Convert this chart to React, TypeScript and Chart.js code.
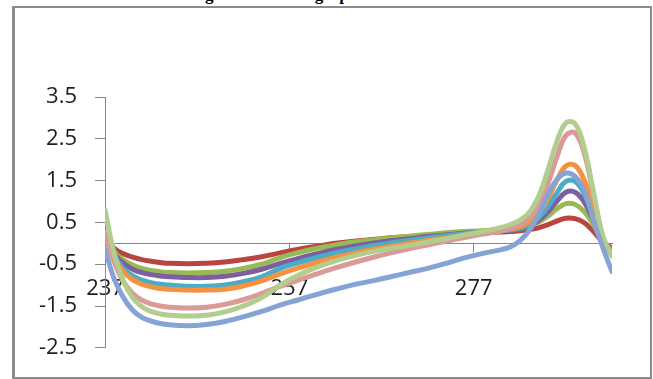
import React, { useEffect, useRef } from 'react';
import { Chart, registerables } from 'chart.js';

Chart.register(...registerables);

const wavelengths = [237, 238, 239, 240, 241, 242, 243, 244, 246, 248, 250, 252, 254, 256, 258, 260, 262, 264, 266, 268, 270, 272, 274, 276, 278, 280, 281, 282, 283, 284, 285, 286, 287, 288, 289, 290, 291, 292];
const xTickValues = [237, 257, 277];
const yTickValues = [-2.5, -1.5, -0.5, 0.5, 1.5, 2.5, 3.5];

const seriesRed = [0.15, -0.12, -0.25, -0.33, -0.39, -0.43, -0.46, -0.48, -0.49, -0.48, -0.45, -0.39, -0.32, -0.23, -0.14, -0.07, 0.0, 0.05, 0.09, 0.13, 0.16, 0.19, 0.22, 0.24, 0.26, 0.27, 0.28, 0.3, 0.33, 0.37, 0.44, 0.53, 0.6, 0.59, 0.49, 0.28, 0.04, -0.12];
const seriesGreen = [0.2, -0.2, -0.4, -0.52, -0.6, -0.65, -0.68, -0.7, -0.71, -0.7, -0.67, -0.6, -0.5, -0.34, -0.22, -0.12, -0.04, 0.03, 0.08, 0.13, 0.17, 0.21, 0.25, 0.28, 0.3, 0.32, 0.33, 0.36, 0.41, 0.5, 0.64, 0.82, 0.95, 0.93, 0.76, 0.44, 0.06, -0.18];
const seriesPurple = [0.2, -0.25, -0.48, -0.62, -0.7, -0.75, -0.78, -0.8, -0.82, -0.82, -0.79, -0.72, -0.62, -0.48, -0.36, -0.25, -0.15, -0.07, 0.0, 0.06, 0.11, 0.16, 0.2, 0.24, 0.27, 0.3, 0.32, 0.35, 0.42, 0.54, 0.74, 1.0, 1.22, 1.22, 0.98, 0.55, 0.07, -0.22];
const seriesTeal = [0.15, -0.3, -0.6, -0.78, -0.88, -0.94, -0.98, -1.0, -1.03, -1.03, -1.0, -0.92, -0.8, -0.6, -0.46, -0.34, -0.23, -0.14, -0.06, 0.01, 0.07, 0.13, 0.18, 0.23, 0.27, 0.3, 0.32, 0.36, 0.44, 0.6, 0.86, 1.2, 1.48, 1.48, 1.18, 0.64, 0.06, -0.3];
const seriesOrange = [0.15, -0.35, -0.68, -0.87, -0.98, -1.04, -1.08, -1.1, -1.12, -1.12, -1.1, -1.02, -0.9, -0.73, -0.59, -0.46, -0.34, -0.24, -0.15, -0.07, 0.0, 0.07, 0.13, 0.19, 0.24, 0.3, 0.34, 0.4, 0.51, 0.72, 1.05, 1.5, 1.85, 1.86, 1.5, 0.82, 0.1, -0.25];
const seriesPink = [0.25, -0.45, -0.92, -1.2, -1.36, -1.45, -1.5, -1.53, -1.55, -1.53, -1.46, -1.35, -1.2, -1.03, -0.88, -0.73, -0.59, -0.46, -0.34, -0.23, -0.13, -0.04, 0.05, 0.14, 0.22, 0.3, 0.36, 0.45, 0.6, 0.9, 1.4, 2.05, 2.58, 2.64, 2.15, 1.15, 0.15, -0.3];
const seriesLightGreen = [0.8, -0.25, -0.9, -1.3, -1.52, -1.63, -1.69, -1.72, -1.74, -1.72, -1.64, -1.5, -1.3, -1.0, -0.76, -0.57, -0.42, -0.3, -0.2, -0.12, -0.05, 0.03, 0.11, 0.2, 0.28, 0.38, 0.45, 0.55, 0.73, 1.1, 1.72, 2.42, 2.88, 2.86, 2.28, 1.22, 0.18, -0.3];
const seriesBlue = [-0.15, -0.85, -1.3, -1.6, -1.77, -1.86, -1.92, -1.95, -1.97, -1.94, -1.87, -1.76, -1.63, -1.48, -1.35, -1.22, -1.1, -0.99, -0.9, -0.8, -0.7, -0.6, -0.48, -0.35, -0.24, -0.15, -0.08, 0.06, 0.3, 0.66, 1.15, 1.52, 1.68, 1.6, 1.25, 0.55, -0.1, -0.68];

const seriesList = [
  { values: seriesRed, color: '#B8453F' },
  { values: seriesGreen, color: '#98B954' },
  { values: seriesPurple, color: '#7D5FA0' },
  { values: seriesTeal, color: '#4AACC5' },
  { values: seriesOrange, color: '#F59240' },
  { values: seriesPink, color: '#DA9A98' },
  { values: seriesLightGreen, color: '#B2CD8E' },
  { values: seriesBlue, color: '#86A3D6' },
];

const axisGray = '#868686';
const tickFont = { family: '"Open Sans", "Noto Sans", sans-serif', size: 22 };

export default function App() {
  const ref = useRef<HTMLCanvasElement>(null);

  useEffect(() => {
    if (!ref.current) return;
    const chart = new Chart(ref.current, {
      type: 'line',
      data: {
        datasets: seriesList.map((s, i) => ({
          data: wavelengths.map((x, j) => ({ x, y: s.values[j] })),
          borderColor: s.color,
          backgroundColor: s.color,
          borderWidth: 5,
          pointRadius: 0,
          tension: 0.4,
          fill: false,
          order: seriesList.length - i,
          borderCapStyle: 'round',
          borderJoinStyle: 'round',
        })),
      },
      options: {
        animation: false,
        responsive: false,
        maintainAspectRatio: false,
        layout: { padding: { left: 0, top: 97, right: 41, bottom: 15 } },
        plugins: {
          legend: { display: false },
          tooltip: { enabled: false },
          title: { display: false },
        },
        scales: {
          x: {
            type: 'linear',
            min: 237,
            max: 292,
            position: { y: 0 },
            grid: { drawOnChartArea: false, drawTicks: true, tickLength: 8, color: axisGray },
            border: { color: axisGray, width: 1 },
            ticks: {
              font: tickFont,
              color: '#1e1e1e',
              padding: 24,
              maxRotation: 0,
              autoSkip: false,
              callback: (v: any) => String(v),
            },
            afterBuildTicks: (s: any) => {
              s.ticks = xTickValues.map((v) => ({ value: v }));
            },
          },
          y: {
            type: 'linear',
            min: -2.5,
            max: 3.5,
            position: 'left',
            grid: { drawOnChartArea: false, drawTicks: true, tickLength: 10, color: axisGray },
            border: { color: axisGray, width: 1 },
            ticks: {
              font: tickFont,
              color: '#1e1e1e',
              padding: 18,
              callback: (v: any) => String(v),
            },
            afterBuildTicks: (s: any) => {
              s.ticks = yTickValues.map((v) => ({ value: v }));
            },
            afterFit: (s: any) => {
              s.width = 105;
            },
          },
        },
      },
    } as any);
    return () => chart.destroy();
  }, []);

  return (
    <div style={{ position: 'fixed', left: 0, top: 0, width: 653, height: 379, overflow: 'hidden', background: '#fff' }}>
      <div
        style={{
          position: 'absolute',
          left: 12,
          top: 6,
          width: 640,
          height: 373,
          borderTop: '2px solid #8c8c8c',
          borderBottom: '2px solid #8c8c8c',
          borderLeft: '3px solid #8c8c8c',
          borderRight: '2px solid #8c8c8c',
          boxSizing: 'border-box',
        }}
      />
      <div
        style={{
          position: 'absolute',
          left: 190,
          top: -14,
          font: 'bold 17px "Liberation Serif", serif',
          lineHeight: '17px',
          whiteSpace: 'nowrap',
          color: '#000',
        }}
      >
        Fig. 1 Derivative graph of
      </div>
      <canvas ref={ref} width={653} height={379} style={{ position: 'absolute', left: 0, top: 0, width: 653, height: 379 }} />
    </div>
  );
}
